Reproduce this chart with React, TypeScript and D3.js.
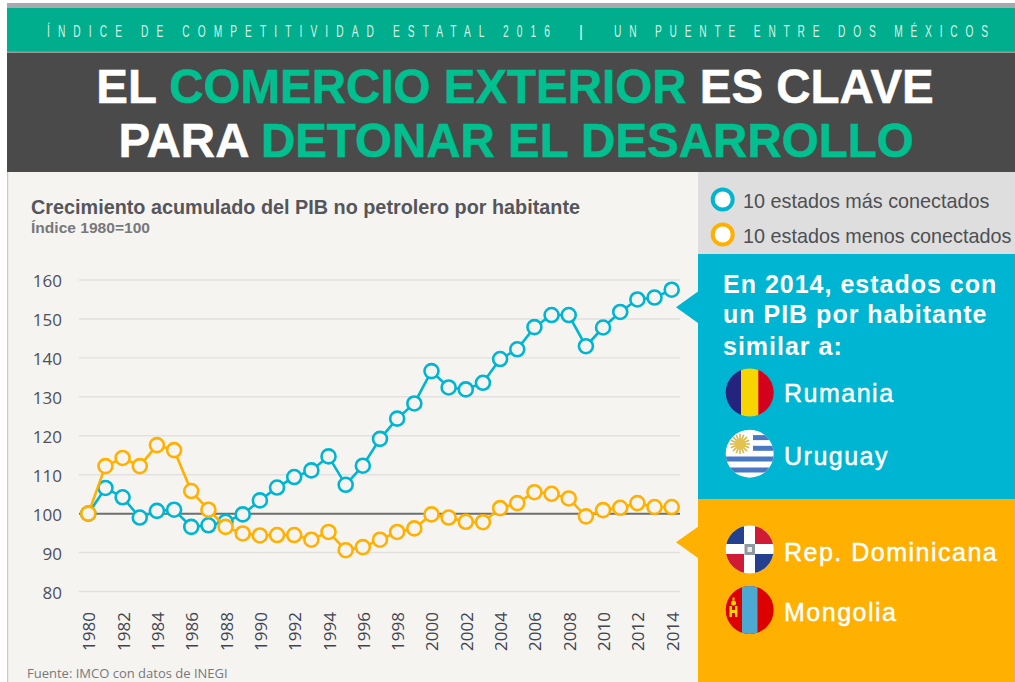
import React from "react";
import * as d3 from "d3";

const years = d3.range(1980, 2015);
const masConectados = [100,106.6,104.2,99,100.7,101,96.6,97,97.9,99.8,103.4,106.7,109.4,111.1,114.7,107.4,112.3,119.2,124.4,128.3,136.6,132.4,131.9,133.6,139.7,142.2,147.9,151,151,143,147.8,151.8,155,155.5,157.5];
const menosConectados = [100,112.2,114.3,112.2,117.6,116.3,105.8,101,96.6,94.9,94.4,94.5,94.5,93.3,95.3,90.6,91.4,93.3,95.3,96.2,99.8,99,97.9,97.8,101.4,102.7,105.5,105.1,103.9,99.3,100.9,101.5,102.7,101.7,101.7];
const yTicks = [80,90,100,110,120,130,140,150,160];
const xTicks = years.filter((y) => y % 2 === 0);
const blueCountries = ["Rumania", "Uruguay"];
const orangeCountries = ["Rep. Dominicana", "Mongolia"];
const sunRays = d3.range(0, 360, 22.5);

const BLUE = "#00b5d1";
const ORANGE = "#ffb000";
const GREEN = "#00c08f";
const sans = "Liberation Sans, Arial, sans-serif";
const tickFont = "Open Sans, sans-serif";
const headerSquash = 0.6;

const x = d3.scaleLinear().domain([1980, 2014]).range([88.3, 671.7]);
const y = d3.scaleLinear().domain([80, 160]).range([591.5, 280]);
const lineGen = d3.line<number>().x((_, i) => x(years[i])).y((d) => y(d));

function Flag({ cx, cy, id, children }: { cx: number; cy: number; id: string; children: React.ReactNode }) {
  return (
    <g>
      <clipPath id={id}><circle cx={cx} cy={cy} r={24} /></clipPath>
      <g clipPath={`url(#${id})`}>{children}</g>
    </g>
  );
}

function Series({ values, color }: { values: number[]; color: string }) {
  return (
    <g>
      <path d={lineGen(values) || ""} fill="none" stroke={color} strokeWidth={2.6} />
      {values.map((v, i) => (
        <circle key={i} cx={x(years[i])} cy={y(v)} r={7} fill="#f5f4f1" stroke={color} strokeWidth={2.6} />
      ))}
    </g>
  );
}

export default function App() {
  const titleStyle = { fontFamily: sans, fontWeight: 700, fontSize: 47.5 };
  return (
    <svg width={1015} height={682} style={{ position: "fixed", left: 0, top: 0 }}>
      <rect width={1015} height={682} fill="#ffffff" />
      <rect x={7} y={3} width={1008} height={5} fill="#a9a9ae" />
      <rect x={7} y={8} width={1008} height={44} fill="#00ae8d" />
      <rect x={7} y={53} width={1008} height={119} fill="#4a4a4a" />
      <rect x={7} y={51.5} width={1008} height={1.5} fill="#9a9a9a" />
      <rect x={7} y={172} width={691} height={510} fill="#f5f4f1" />
      <rect x={7} y={172} width={1.2} height={510} fill="#c8c8cc" />
      <rect x={698} y={172} width={317} height={82} fill="#dedede" />
      <rect x={698} y={254} width={317} height={245} fill={BLUE} />
      <rect x={698} y={499} width={317} height={183} fill={ORANGE} />
      <path d="M698 291.5L676 307.3L698 323Z" fill={BLUE} />
      <path d="M698 526.7L676 542.3L698 558Z" fill={ORANGE} />

      <g fill="#d5f2e6" fontFamily={sans} fontSize={17}>
        <text transform={`translate(47,37) scale(${headerSquash},1)`} textLength={503 / headerSquash} lengthAdjust="spacing">ÍNDICE DE COMPETITIVIDAD ESTATAL 2016</text>
        <text x={581} y={37} textAnchor="middle">|</text>
        <text transform={`translate(614,37) scale(${headerSquash},1)`} textLength={374 / headerSquash} lengthAdjust="spacing">UN PUENTE ENTRE DOS MÉXICOS</text>
      </g>
      <text x={515} y={103} textAnchor="middle" style={titleStyle} fill="#fff" stroke="#fff" strokeWidth={0.5}>
        EL <tspan fill={GREEN} stroke={GREEN}>COMERCIO EXTERIOR</tspan> ES CLAVE
      </text>
      <text x={516} y={157} textAnchor="middle" style={titleStyle} fill="#fff" stroke="#fff" strokeWidth={0.5}>
        PARA <tspan fill={GREEN} stroke={GREEN}>DETONAR EL DESARROLLO</tspan>
      </text>

      <text x={31} y={214} fontFamily={sans} fontWeight={700} fontSize={19.6} textLength={549} lengthAdjust="spacingAndGlyphs" fill="#55565a">Crecimiento acumulado del PIB no petrolero por habitante</text>
      <text x={31} y={233} fontFamily={sans} fontWeight={700} fontSize={14.5} textLength={119} lengthAdjust="spacingAndGlyphs" fill="#77787b">Índice 1980=100</text>

      {yTicks.filter((t) => t !== 100).map((t) => (
        <line key={t} x1={79} x2={680} y1={y(t)} y2={y(t)} stroke="#e2e1df" strokeWidth={1.4} />
      ))}
      <line x1={79} x2={680} y1={y(100)} y2={y(100)} stroke="#6e6e6e" strokeWidth={2} />
      {yTicks.map((t) => (
        <text key={t} x={62} y={y(t) + 7} textAnchor="end" fontFamily={tickFont} fontSize={17} fill="#4d5058">{t}</text>
      ))}
      {xTicks.map((t) => (
        <text key={t} transform={`translate(${x(t) + 7},651) rotate(-90)`} fontFamily={tickFont} fontSize={17} fill="#3f4450">{t}</text>
      ))}

      <Series values={masConectados} color={BLUE} />
      <Series values={menosConectados} color={ORANGE} />

      <text x={27} y={678} fontFamily={tickFont} fontSize={13} fill="#77787b">Fuente: IMCO con datos de INEGI</text>

      <circle cx={722.7} cy={199.5} r={10} fill="#fff" stroke={BLUE} strokeWidth={4} />
      <text x={743} y={208} fontFamily={sans} fontSize={19.8} fill="#4d4f53">10 estados más conectados</text>
      <circle cx={722.7} cy={234.5} r={10} fill="#fff" stroke={ORANGE} strokeWidth={4} />
      <text x={743} y={243} fontFamily={sans} fontSize={19.8} fill="#4d4f53">10 estados menos conectados</text>

      <g fontFamily={sans} fontWeight={700} fontSize={25} fill="#fff" letterSpacing={1}>
        <text x={723} y={293}>En 2014, estados con</text>
        <text x={723} y={323}>un PIB por habitante</text>
        <text x={723} y={355}>similar a:</text>
      </g>

      <Flag cx={749.7} cy={392.5} id="ro">
        <rect x={725} y={368} width={17} height={49} fill="#24247f" />
        <rect x={741} y={368} width={18} height={49} fill="#f7d500" />
        <rect x={758.3} y={368} width={16} height={49} fill="#d4001e" />
      </Flag>
      <Flag cx={749.7} cy={453.7} id="uy">
        <rect x={725} y={429} width={49} height={49} fill="#fff" />
        {[437.6, 448.3, 459, 470].map((s) => (
          <rect key={s} x={s < 450 ? 753 : 725} y={s - 2.5} width={49} height={5} fill="#4a78c2" />
        ))}
        {sunRays.map((a) => (
          <line key={a} x1={740} y1={444} x2={740 + 10 * Math.cos((a * Math.PI) / 180)} y2={444 + 10 * Math.sin((a * Math.PI) / 180)} stroke="#d9b84a" strokeWidth={1.6} />
        ))}
        <circle cx={740} cy={444} r={5.5} fill="#e3c24e" />
      </Flag>
      <Flag cx={749.7} cy={549.5} id="do">
        <rect x={725} y={525} width={49} height={49} fill="#fff" />
        <rect x={725} y={525} width={19} height={19} fill="#24408e" />
        <rect x={755} y={525} width={19} height={19} fill="#cf1b35" />
        <rect x={725} y={554} width={19} height={20} fill="#cf1b35" />
        <rect x={755} y={554} width={19} height={20} fill="#24408e" />
        <rect x={744.5} y={544} width={10.5} height={11} fill="#8e9aa0" />
        <rect x={747.5} y={547} width={4.5} height={5} fill="#f0e8e4" />
      </Flag>
      <Flag cx={749.7} cy={610} id="mn">
        <rect x={725} y={586} width={49} height={49} fill="#dc0000" />
        <rect x={742} y={586} width={15.5} height={49} fill="#4ba9d2" />
        <rect x={729.5} y={606} width={2.4} height={11} fill="#f7d500" />
        <rect x={735} y={606} width={2.4} height={11} fill="#f7d500" />
        <rect x={731} y={610} width={5} height={3} fill="#f7d500" />
        <circle cx={733.5} cy={603} r={2.5} fill="#f7d500" />
        <rect x={732.5} y={597.5} width={2} height={3} fill="#f7d500" />
      </Flag>

      <g fontFamily={sans} fontWeight={400} fontSize={25} fill="#fff" stroke="#fff" strokeWidth={0.5} letterSpacing={1.5}>
        <text x={784} y={402}>{blueCountries[0]}</text>
        <text x={784} y={465}>{blueCountries[1]}</text>
        <text x={784} y={561}>{orangeCountries[0]}</text>
        <text x={784} y={621}>{orangeCountries[1]}</text>
      </g>
    </svg>
  );
}
